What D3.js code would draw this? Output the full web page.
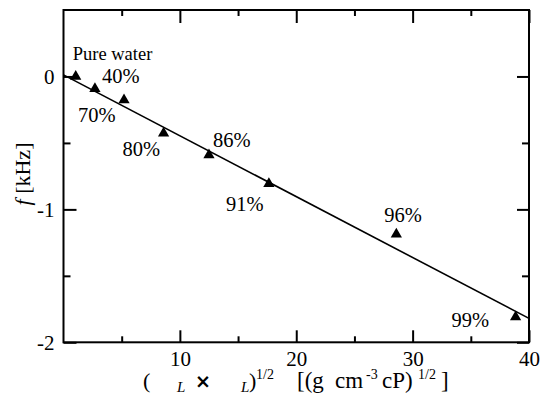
<!DOCTYPE html>
<html><head><meta charset="utf-8">
<script src="https://cdn.jsdelivr.net/npm/d3@7"></script>
</head>
<body style="margin:0;background:#fff">
<svg id="chart" width="540" height="405"></svg>
<script>
// ---- data ----
const pointLabels = ["Pure water","40%","70%","80%","86%","91%","96%","99%"];
const xValues = [1.05, 2.7, 5.2, 8.6, 12.5, 17.65, 28.6, 38.85];
const yValues = [0.0, -0.093, -0.178, -0.428, -0.59, -0.808, -1.188, -1.809];
const fitX = [0, 40];
const fitY = [0.012, -1.82];
const xMajorTicks = [10, 20, 30, 40];
const xMinorTicks = [5, 15, 25, 35];
const yMajorTicks = [0, -1, -2];
const yMinorTicks = [-0.5, -1.5];
const xDomain = [0, 40];
const yDomain = [-2, 0.5];

// ---- layout (pixel offsets for point labels) ----
const labelOffsets = [[-3,-16],[7,-6],[-46,22],[-41,23],[4,-8],[-43,27],[-12,-12],[-64,10]];

const SERIF = '"Liberation Serif"';
const svg = d3.select("#chart").attr("font-family", SERIF);
const L = 63.5, R = 529, T = 10, B = 342.3;
const x = d3.scaleLinear().domain(xDomain).range([L, R]);
const y = d3.scaleLinear().domain(yDomain).range([B, T]);

const ink = "#000";
const fmt = d => d3.format("d")(d).replace("\u2212","-");
function tickOnly(g){ g.attr("font-family",SERIF).attr("font-size",21);
  g.select(".domain").remove(); g.selectAll("line").attr("stroke",ink).attr("stroke-width",2); }

// bottom
svg.append("g").attr("transform",`translate(0,${B})`)
  .call(d3.axisBottom(x).tickValues(xMajorTicks).tickSizeInner(-12).tickSizeOuter(0).tickPadding(16).tickFormat(fmt))
  .call(tickOnly)
  .call(g=>g.selectAll("text").attr("font-family",SERIF).attr("font-size",21).attr("fill",ink).attr("dy","0.38em"));
svg.append("g").attr("transform",`translate(0,${B})`)
  .call(d3.axisBottom(x).tickValues(xMinorTicks).tickSizeInner(-6).tickSizeOuter(0).tickFormat(""))
  .call(tickOnly);
// top
svg.append("g").attr("transform",`translate(0,${T})`)
  .call(d3.axisTop(x).tickValues(xMajorTicks).tickSizeInner(-13).tickSizeOuter(0).tickFormat(""))
  .call(tickOnly);
svg.append("g").attr("transform",`translate(0,${T})`)
  .call(d3.axisTop(x).tickValues(xMinorTicks).tickSizeInner(-6).tickSizeOuter(0).tickFormat(""))
  .call(tickOnly);
// left
svg.append("g").attr("transform",`translate(${L},0)`)
  .call(d3.axisLeft(y).tickValues(yMajorTicks).tickSizeInner(-13).tickSizeOuter(0).tickPadding(9).tickFormat(fmt))
  .call(tickOnly)
  .call(g=>g.selectAll("text").attr("font-family",SERIF).attr("font-size",21).attr("fill",ink));
svg.append("g").attr("transform",`translate(${L},0)`)
  .call(d3.axisLeft(y).tickValues(yMinorTicks).tickSizeInner(-7).tickSizeOuter(0).tickFormat(""))
  .call(tickOnly);
// right
svg.append("g").attr("transform",`translate(${R},0)`)
  .call(d3.axisRight(y).tickValues(yMajorTicks).tickSizeInner(-12).tickSizeOuter(0).tickFormat(""))
  .call(tickOnly);
svg.append("g").attr("transform",`translate(${R},0)`)
  .call(d3.axisRight(y).tickValues(yMinorTicks).tickSizeInner(-7).tickSizeOuter(0).tickFormat(""))
  .call(tickOnly);

// frame
svg.append("rect").attr("x",L).attr("y",T).attr("width",R-L).attr("height",B-T)
  .attr("fill","none").attr("stroke",ink).attr("stroke-width",2);

// fit line
const line = d3.line().x(d=>x(d[0])).y(d=>y(d[1]));
svg.append("path").datum(fitX.map((v,i)=>[v,fitY[i]]))
  .attr("d",line).attr("fill","none").attr("stroke",ink).attr("stroke-width",1.6);

// points
const pts = xValues.map((v,i)=>({x:v,y:yValues[i],label:pointLabels[i],off:labelOffsets[i]}));
svg.append("g").selectAll("path").data(pts).join("path")
  .attr("d", d3.symbol(d3.symbolTriangle, 55))
  .attr("transform", d=>`translate(${x(d.x)},${y(d.y)})`)
  .attr("fill", ink);

// labels
svg.append("g").selectAll("text").data(pts).join("text")
  .attr("x", d=>x(d.x)+d.off[0]).attr("y", d=>y(d.y)+d.off[1])
  .attr("font-family", SERIF)
  .attr("font-size", (d,i)=> i===0 ? 18.5 : 20.5)
  .attr("fill", ink)
  .text(d=>d.label);

// y axis title
const yt = svg.append("text").attr("transform","translate(30,174) rotate(-90)")
  .attr("text-anchor","middle").attr("font-family",SERIF).attr("font-size",22).attr("fill",ink);
yt.append("tspan").attr("font-style","italic").text("f");
yt.append("tspan").text(" [kHz]");

// x axis title
const xt = svg.append("text").attr("y",388).attr("font-family",SERIF).attr("font-size",22).attr("fill",ink);
xt.append("tspan").attr("x",143).text("(");
xt.append("tspan").attr("x",177).attr("y",392).attr("font-size",15).attr("font-style","italic").text("L");
xt.append("tspan").attr("x",241).attr("y",392).attr("font-size",15).attr("font-style","italic").text("L");
xt.append("tspan").attr("x",249).attr("y",388).text(")");
xt.append("tspan").attr("x",256).attr("y",379).attr("font-size",14).text("1/2");
xt.append("tspan").attr("x",297).attr("y",388).attr("font-size",23).text("[(g");
xt.append("tspan").attr("x",335).attr("y",388).attr("font-size",23).text("cm");
xt.append("tspan").attr("x",366).attr("y",379).attr("font-size",14).text("-3");
xt.append("tspan").attr("x",382).attr("y",388).attr("font-size",23).text("cP)");
xt.append("tspan").attr("x",418).attr("y",379).attr("font-size",14).text("1/2");
xt.append("tspan").attr("x",441).attr("y",388).attr("font-size",23).text("]");
svg.append("text").attr("x",195).attr("y",388).attr("font-family",'"DejaVu Sans"')
  .attr("font-weight","bold").attr("font-size",19).attr("fill",ink).text("\u00d7");
</script>
</body></html>
